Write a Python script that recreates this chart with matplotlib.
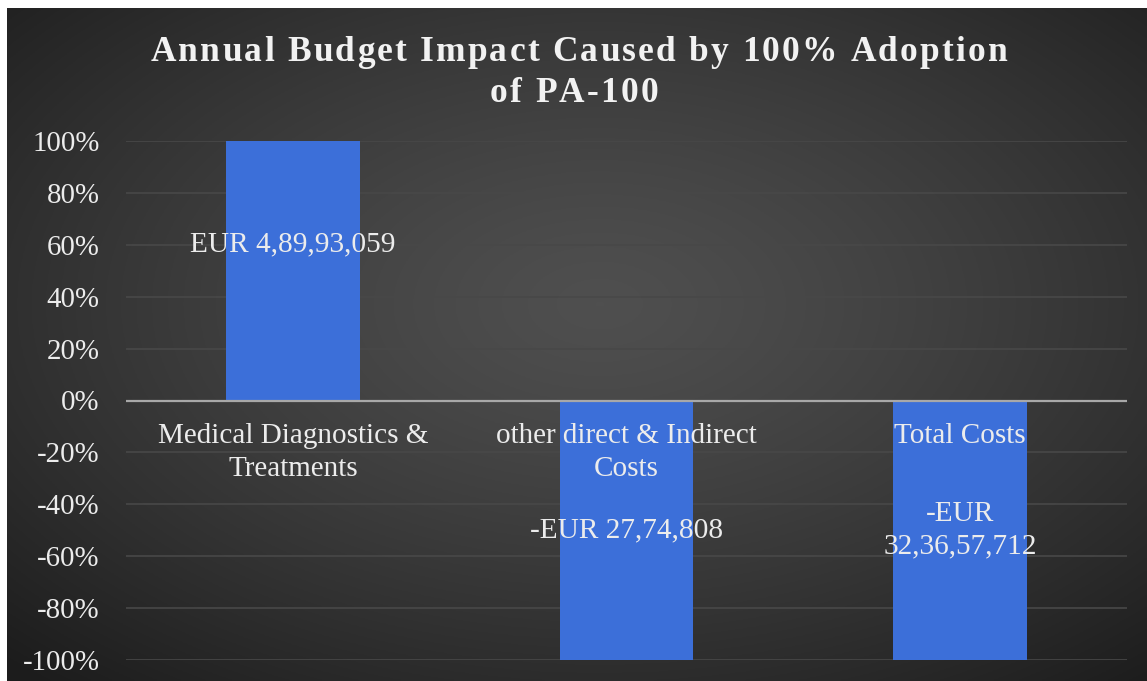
import numpy as np
import matplotlib
matplotlib.use("Agg")
import matplotlib.pyplot as plt

categories = ["Medical Diagnostics &\nTreatments", "other direct & Indirect\nCosts", "Total Costs"]
values = [1.0, -1.0, -1.0]
value_labels = ["EUR 4,89,93,059", "-EUR 27,74,808", "-EUR\n32,36,57,712"]
label_frac = [0.6, 0.5, 0.5]   # where the value label sits, as a share of the bar
yticks = [-1.0, -0.8, -0.6, -0.4, -0.2, 0.0, 0.2, 0.4, 0.6, 0.8, 1.0]
title_lines = ["Annual Budget Impact Caused by 100% Adoption", "of PA-100"]

plt.rcParams['font.family'] = ['Liberation Serif', 'DejaVu Serif']
W, H = 1147, 681
fig = plt.figure(figsize=(W / 100, H / 100), dpi=100, facecolor="white")

# dark radial gradient background, with the thin white margin top and left
bg = fig.add_axes([7 / W, 0, 1 - 7 / W, (H - 8) / H])
yy, xx = np.mgrid[0:1:300j, 0:1:500j]
r = np.sqrt(((xx - 0.52) / 0.75) ** 2 + ((yy - 0.56) / 0.75) ** 2)
shade = 0.31 - 0.2 * np.clip(r, 0, 1) ** 1.3
bg.imshow(np.dstack([shade] * 3), aspect="auto", extent=[0, 1, 0, 1], origin="lower")
bg.axis("off")

ax = fig.add_axes([126 / W, (H - 660) / H, (1127 - 126) / W, (660 - 141) / H])
ax.patch.set_alpha(0)
x = np.arange(len(categories))
ax.set_xlim(-0.5, len(categories) - 0.5)
ax.set_ylim(-1.0, 1.0)

for t in yticks:
    if t != 0:
        ax.axhline(t, color="#484848", lw=1.2, zorder=0)

ax.bar(x, values, width=0.4, color="#3c6fd9", zorder=2)
ax.axhline(0, color="#a8a8a8", lw=1.6, zorder=3)

for i in range(len(categories)):
    ax.annotate(categories[i], (x[i], 0), xytext=(0, -16), textcoords="offset points",
                ha="center", va="top", fontsize=21, color="#ececec",
                linespacing=1.35, zorder=4)
    ax.text(x[i], values[i] * label_frac[i], value_labels[i], ha="center", va="center",
            fontsize=21.2, color="#ececec", linespacing=1.35, zorder=4)

ax.set_yticks(yticks)
ax.set_yticklabels(["%d%%" % round(t * 100) for t in yticks])
ax.set_xticks([])
ax.tick_params(axis="y", length=0, pad=19, labelsize=20.8, labelcolor="#ececec")
for s in ax.spines.values():
    s.set_visible(False)

# title with wide letter spacing, one glyph at a time
renderer = fig.canvas.get_renderer()
def glyph_width(ch, **kw):
    if ch == " ":
        a = fig.text(0, 0, "a a", **kw)
        b = fig.text(0, 0, "aa", **kw)
        w = a.get_window_extent(renderer).width - b.get_window_extent(renderer).width
        a.remove(); b.remove()
        return w
    t = fig.text(0, 0, ch, **kw)
    w = t.get_window_extent(renderer).width
    t.remove()
    return w

title_kw = dict(fontsize=25.5, fontweight="bold", color="#f2f2f2")
spacing = 2.2
for line, cx, base in zip(title_lines, [579, 574], [61, 102]):
    widths = [glyph_width(c, **title_kw) for c in line]
    total = sum(widths) + spacing * (len(line) - 1)
    px = cx - total / 2
    for c, w in zip(line, widths):
        if c != " ":
            fig.text(px / W, (H - base) / H, c, ha="left", va="baseline", **title_kw)
        px += w + spacing

fig.savefig("out.png", dpi=100, facecolor=fig.get_facecolor())
